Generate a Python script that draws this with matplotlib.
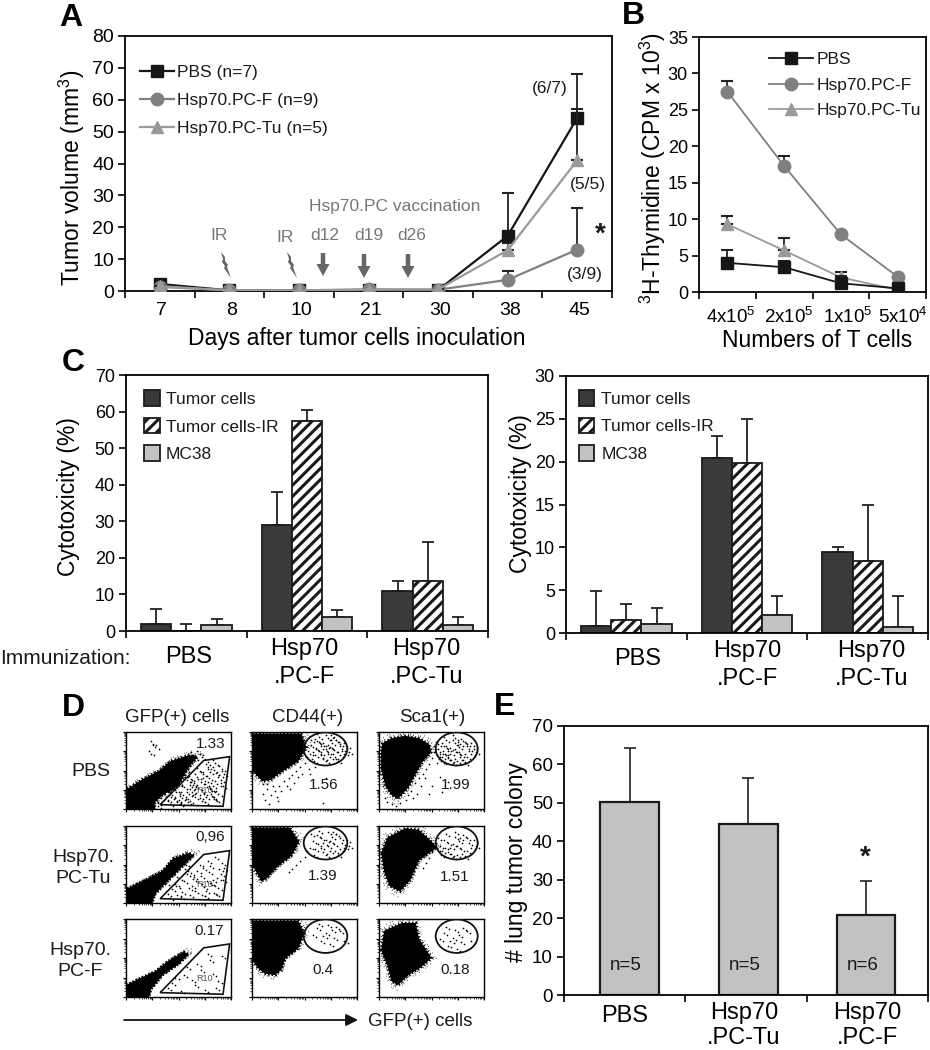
import matplotlib
matplotlib.use("Agg")
import numpy as np
import matplotlib.pyplot as plt
from matplotlib.patches import Patch, Ellipse, Polygon, FancyArrow
from matplotlib.lines import Line2D
from matplotlib.transforms import Affine2D

plt.rcParams.update({
    "font.family": ["Liberation Sans", "DejaVu Sans"],
    "mathtext.fontset": "custom",
    "mathtext.rm": "Liberation Sans",
    "mathtext.default": "regular",
    "hatch.linewidth": 2.2,
    "axes.linewidth": 1.3,
    "text.color": "#1a1a1a",
})

# ---------- data ----------
days = ["7", "8", "10", "21", "30", "38", "45"]
a_pbs = [2.2, 0.2, 0.2, 0.3, 0.3, 17.3, 54.3]
a_pbs_top = [2.2, 0.2, 0.2, 0.3, 0.3, 30.7, 68.0]
a_f = [1.3, 0.2, 0.2, 0.5, 0.4, 3.5, 13.0]
a_f_top = [1.3, 0.2, 0.2, 0.5, 0.4, 6.3, 26.0]
a_tu = [1.5, 0.2, 0.2, 0.4, 0.5, 12.8, 41.0]
a_tu_top = [1.5, 0.2, 0.2, 0.4, 0.5, 15.0, 57.0]

t_cells = ["4x10$^5$", "2x10$^5$", "1x10$^5$", "5x10$^4$"]
b_pbs = [4.0, 3.4, 1.2, 0.5]
b_pbs_top = [5.8, 4.3, 2.2, 0.5]
b_f = [27.5, 17.3, 7.9, 2.1]
b_f_top = [29.0, 18.7, 7.9, 2.1]
b_tu = [9.3, 5.7, 2.0, 0.3]
b_tu_top = [10.5, 7.4, 2.7, 0.3]

groups_c = ["PBS", "Hsp70\n.PC-F", "Hsp70\n.PC-Tu"]
c1_tc = [2.0, 29.0, 11.0]
c1_tc_top = [6.0, 38.0, 13.8]
c1_ir = [0.0, 57.5, 13.8]
c1_ir_top = [2.0, 60.5, 24.2]
c1_mc = [1.7, 3.8, 1.7]
c1_mc_top = [3.3, 5.7, 3.7]
c2_tc = [0.8, 20.4, 9.5]
c2_tc_top = [4.9, 23.0, 10.0]
c2_ir = [1.5, 19.8, 8.4]
c2_ir_top = [3.4, 25.0, 15.0]
c2_mc = [1.0, 2.1, 0.7]
c2_mc_top = [2.9, 4.3, 4.3]

groups_e = ["PBS", "Hsp70\n.PC-Tu", "Hsp70\n.PC-F"]
e_vals = [50.2, 44.5, 20.7]
e_top = [64.3, 56.5, 29.7]
e_n = ["n=5", "n=5", "n=6"]

flow_rows = ["PBS", "Hsp70.\nPC-Tu", "Hsp70.\nPC-F"]
flow_cols = ["GFP(+) cells", "CD44(+)", "Sca1(+)"]
flow_pct = [["1.33", "1.56", "1.99"], ["0,96", "1.39", "1.51"], ["0.17", "0.4", "0.18"]]
flow_share = [1.0, 0.6, 0.22]

cloud_gfp = [
    [(0, 0), (28, 0), (27, 8), (35, 18), (50, 30), (58, 50), (68, 68), (60, 70), (42, 62), (32, 50), (15, 38), (0, 25)],
    [(0, 0), (25, 0), (28, 12), (38, 26), (52, 45), (65, 62), (60, 65), (45, 58), (35, 42), (15, 28), (0, 18)],
    [(0, 0), (22, 0), (24, 10), (35, 28), (50, 42), (60, 55), (55, 58), (40, 46), (28, 33), (10, 22), (0, 15)],
]
cloud_cd44 = [
    [(0, 98), (47, 98), (52, 80), (44, 62), (28, 48), (18, 38), (10, 36), (0, 50)],
    [(0, 98), (36, 98), (45, 80), (38, 62), (25, 48), (14, 32), (9, 28), (4, 40), (0, 50)],
    [(0, 98), (44, 98), (50, 82), (44, 62), (32, 50), (28, 35), (22, 28), (12, 30), (5, 38), (0, 48)],
]
cloud_sca = [
    [(2, 75), (3, 85), (12, 92), (25, 95), (38, 92), (48, 84), (50, 74), (42, 62), (36, 48), (28, 28), (18, 13), (12, 18), (6, 30), (2, 52)],
    [(2, 65), (8, 85), (25, 97), (38, 95), (50, 80), (55, 72), (38, 55), (30, 30), (20, 15), (10, 22), (5, 40)],
    [(2, 60), (5, 85), (22, 95), (35, 95), (38, 75), (50, 50), (40, 38), (28, 28), (18, 15), (12, 20), (8, 40)],
]
gate_gfp = [(74, 63), (98.7, 68), (92.4, 3.5), (32.5, 5.6)]
dots_gfp = [(40, 12), (52, 8), (63, 22), (71, 35), (80, 48), (88, 20), (47, 25), (58, 38), (66, 15), (75, 9),
            (83, 30), (91, 52), (44, 18), (55, 28), (68, 42), (78, 55), (86, 12), (50, 33), (61, 10), (73, 45),
            (82, 24), (90, 38), (42, 7), (57, 50), (64, 31), (76, 16), (85, 60), (48, 22), (53, 14), (69, 27),
            (79, 40), (87, 33), (46, 36), (60, 19), (72, 11), (81, 26), (89, 44), (38, 26), (56, 44), (65, 34),
            (74, 21), (84, 13), (93, 46), (49, 11), (62, 39), (70, 50), (77, 29), (92, 30), (43, 15), (59, 9),
            (67, 21), (80, 57), (86, 47), (51, 6), (54, 18), (63, 28), (75, 37), (83, 16), (36, 20), (33, 14),
            (30, 8), (27, 12), (40, 40), (45, 32), (58, 60), (64, 70), (70, 72), (66, 66), (48, 55), (53, 62),
            (26, 85), (28, 80), (24, 72), (8, 15), (35, 30), (38, 34), (41, 28), (72, 68), (20, 5), (30, 4)]
dots_cd44 = [(62, 88), (70, 82), (78, 76), (66, 72), (84, 84), (58, 80), (74, 68), (80, 90), (64, 94), (72, 92),
             (88, 72), (68, 78), (76, 86), (60, 70), (82, 62), (86, 78), (56, 90), (70, 62), (90, 82), (66, 84),
             (55, 72), (74, 80), (79, 68), (63, 76), (84, 70), (68, 66), (72, 74), (77, 92), (59, 62), (92, 74),
             (52, 68), (50, 60), (46, 54), (42, 50), (38, 44), (35, 40), (30, 36), (26, 30), (22, 24), (18, 18),
             (14, 26), (12, 12), (16, 6), (48, 46), (54, 52), (40, 34), (33, 30), (28, 24), (20, 30), (10, 20),
             (44, 42), (60, 55), (36, 26), (24, 16), (14, 32), (55, 46), (70, 40), (68, 8), (25, 10), (10, 32)]
dots_sca = [(62, 82), (70, 76), (78, 70), (66, 66), (84, 84), (58, 74), (74, 62), (80, 88), (64, 90), (72, 86),
            (88, 72), (68, 72), (76, 80), (60, 68), (82, 60), (86, 78), (56, 84), (70, 60), (90, 82), (66, 78),
            (55, 70), (74, 74), (79, 64), (63, 72), (84, 68), (68, 64), (72, 92), (77, 84), (59, 62), (92, 74),
            (52, 74), (50, 66), (54, 78), (48, 58), (45, 52), (42, 46), (38, 40), (34, 34), (30, 24), (28, 18),
            (26, 12), (20, 8), (12, 6), (6, 14), (4, 30), (44, 40), (50, 30), (60, 22), (36, 20), (40, 30),
            (48, 20), (58, 42), (66, 35), (16, 4), (8, 9), (32, 14), (1, 45), (55, 60), (52, 82), (64, 58)]

# ---------- helpers ----------
W, H = 930, 1050
fig = plt.figure(figsize=(W / 100, H / 100), dpi=100, facecolor="white")


def axes_px(l, t, r, b):
    return fig.add_axes([l / W, 1 - b / H, (r - l) / W, (b - t) / H])


def band_axis(ax, labels, size, pad=8, ysize=13, linespacing=1.35):
    n = len(labels)
    ax.set_xlim(-0.5, n - 0.5)
    ax.set_xticks(np.arange(n + 1) - 0.5)
    ax.set_xticklabels([])
    ax.set_xticks(np.arange(n), minor=True)
    ax.set_xticklabels(labels, minor=True, fontsize=size, linespacing=linespacing)
    ax.tick_params(axis="x", which="minor", length=0, pad=pad)
    ax.tick_params(axis="x", which="major", length=5, width=1.2, direction="out")
    ax.tick_params(axis="y", length=5, width=1.2, labelsize=ysize, pad=3)


def nudge_labels(ax, offsets):
    """Move each category label by (dx, dy) pixels; dy is upward."""
    labs = ax.get_xticklabels(minor=True)
    for lab, (dx, dy) in zip(labs, offsets):
        lab.set_transform(lab.get_transform() + Affine2D().translate(dx, dy))


def place_ylabel(ax, px_x, px_y):
    inv = ax.transAxes.inverted()
    ax.yaxis.set_label_coords(*inv.transform((px_x, H - px_y)))
    ax.yaxis.label.set_verticalalignment("center")


def place_xlabel(ax, px_x, px_y):
    inv = ax.transAxes.inverted()
    ax.xaxis.set_label_coords(*inv.transform((px_x, H - px_y)))
    ax.xaxis.label.set_verticalalignment("center")


def line_series(ax, vals, tops, color, marker, ms, z, lw=1.6):
    xs = np.arange(len(vals))
    v, t = np.array(vals), np.array(tops)
    ax.errorbar(xs, v, yerr=[np.zeros_like(v), t - v], fmt="none", ecolor="#222222",
                elinewidth=1.3, capsize=4, capthick=1.5, zorder=z - 0.5)
    ax.plot(xs, v, color=color, marker=marker, ms=ms, lw=lw, mec=color, zorder=z)


def line_handle(color, marker, ms, lw=1.6):
    return Line2D([], [], color=color, marker=marker, ms=ms, lw=lw, mec=color)


C_BLACK, C_CIRC, C_TRI = "#161616", "#808080", "#9a9a9a"
MS_S, MS_C, MS_T = 8.5, 9, 9

# ---------- panel A ----------
ax = axes_px(125, 36, 612, 291)
band_axis(ax, days, 14, 8, 14)
nudge_labels(ax, [(2, 0)] * 7)
ax.set_ylim(0, 80)
ax.set_yticks(range(0, 81, 10))
line_series(ax, a_pbs, a_pbs_top, C_BLACK, "s", MS_S, 3)
line_series(ax, a_f, a_f_top, C_CIRC, "o", MS_C, 4)
line_series(ax, a_tu, a_tu_top, C_TRI, "^", MS_T, 5)
ax.set_ylabel("Tumor volume (mm$^3$)", fontsize=16.5)
place_ylabel(ax, 72, 178)
ax.set_xlabel("Days after tumor cells inoculation", fontsize=16.5)
place_xlabel(ax, 357, 339)
ax.legend([line_handle(C_BLACK, "s", MS_S), line_handle(C_CIRC, "o", MS_C), line_handle(C_TRI, "^", MS_T)],
          ["PBS (n=7)", "Hsp70.PC-F (n=9)", "Hsp70.PC-Tu (n=5)"], frameon=False, fontsize=12.5,
          loc="upper left", bbox_to_anchor=(0.03, 0.885), handlelength=2.0, handletextpad=0.15, labelspacing=0.72,
          borderaxespad=0, borderpad=0)

# ---------- panel B ----------
ax = axes_px(699, 37, 926, 292)
band_axis(ax, t_cells, 13.5, 11)
nudge_labels(ax, [(3, 0), (5, 0), (7, 0), (5, 0)])
ax.set_ylim(0, 35)
ax.set_yticks(range(0, 36, 5))
line_series(ax, b_f, b_f_top, C_CIRC, "o", MS_C, 3, 1.3)
line_series(ax, b_tu, b_tu_top, C_TRI, "^", MS_T, 4, 1.3)
line_series(ax, b_pbs, b_pbs_top, C_BLACK, "s", MS_S, 5, 1.3)
ax.set_ylabel("$^3$H-Thymidine (CPM x 10$^3$)", fontsize=16.5)
place_ylabel(ax, 653, 168)
ax.set_xlabel("Numbers of T cells", fontsize=16.5)
place_xlabel(ax, 817, 340)
ax.legend([line_handle(C_BLACK, "s", MS_S, 1.3), line_handle(C_CIRC, "o", MS_C, 1.3), line_handle(C_TRI, "^", MS_T, 1.3)],
          ["PBS", "Hsp70.PC-F", "Hsp70.PC-Tu"], frameon=False, fontsize=12.5, loc="upper left",
          bbox_to_anchor=(0.31, 0.94), handlelength=2.5, handletextpad=0.25, labelspacing=0.58,
          borderaxespad=0, borderpad=0)


# ---------- panel C ----------
def bar_handles():
    return [Patch(facecolor="#3a3a3a", edgecolor="#1a1a1a", lw=1.3),
            Patch(facecolor="white", edgecolor="#1a1a1a", hatch="///", lw=1.3),
            Patch(facecolor="#c2c2c2", edgecolor="#1a1a1a", lw=1.3)]


def grouped(ax, series, tops, ymax, step, anchor, offsets, ylab_px, pad):
    n = len(groups_c)
    band_axis(ax, groups_c, 17, 5)
    nudge_labels(ax, offsets)
    ax.set_ylim(0, ymax)
    ax.set_yticks(range(0, ymax + 1, step))
    styles = [dict(color="#3a3a3a"), dict(color="white", hatch="///"), dict(color="#c2c2c2")]
    width = 0.25
    for i, (vals, top, st) in enumerate(zip(series, tops, styles)):
        xs = np.arange(n) + (i - 1) * width
        v, t = np.array(vals), np.array(top)
        ax.errorbar(xs, v, yerr=[np.zeros_like(v), t - v], fmt="none", ecolor="#222222",
                    elinewidth=1.3, capsize=4, capthick=1.3, zorder=1)
        ax.bar(xs, v, width=width, edgecolor="#1a1a1a", lw=1.3, zorder=2, **st)
    ax.set_ylabel("Cytotoxicity (%)", fontsize=16.5)
    place_ylabel(ax, *ylab_px)
    ax.legend(bar_handles(), ["Tumor cells", "Tumor cells-IR", "MC38"], frameon=False, fontsize=12.5,
              loc="upper left", bbox_to_anchor=anchor, handlelength=0.9, handleheight=1.0,
              handletextpad=pad, labelspacing=0.62, borderaxespad=0, borderpad=0)


grouped(axes_px(126, 375, 488, 631), [c1_tc, c1_ir, c1_mc], [c1_tc_top, c1_ir_top, c1_mc_top], 70, 10,
        (0.05, 0.94), [(2, -8), (-3, 0), (-1, 0)], (68, 497), 0.35)
grouped(axes_px(566, 376, 928, 633), [c2_tc, c2_ir, c2_mc], [c2_tc_top, c2_ir_top, c2_mc_top], 30, 5,
        (0.035, 0.945), [(11, -8), (0, 0), (4, 0)], (520, 494), 0.4)

# ---------- panel E ----------
ax = axes_px(564, 726, 928, 995)
band_axis(ax, groups_e, 17, 5, 13.5, linespacing=1.18)
nudge_labels(ax, [(0, -3), (-2, 0), (0, 0)])
ax.set_ylim(0, 70)
ax.set_yticks(range(0, 71, 10))
xe = np.arange(3) + np.array([0.04, 0.02, -0.01])
ve, te = np.array(e_vals), np.array(e_top)
ax.errorbar(xe, ve, yerr=[np.zeros(3), te - ve], fmt="none", ecolor="#222222", elinewidth=1.2,
            capsize=4, capthick=1.2, zorder=1)
ax.bar(xe, ve, width=0.48, color="#c2c2c2", edgecolor="#1a1a1a", lw=1.6, zorder=2)
for x, lab in zip(xe, e_n):
    ax.text(x - 0.03, 7.7, lab, ha="center", va="center", fontsize=13.5, zorder=3)
ax.set_ylabel("# lung tumor colony", fontsize=16.5)
place_ylabel(ax, 517, 862)

# ---------- panel D ----------
col_x = [(126, 231), (252, 357), (379, 484)]
row_y = [(732, 809), (826, 903), (919, 997)]
clouds = [cloud_gfp, cloud_cd44, cloud_sca]
dots = [dots_gfp, dots_cd44, dots_sca]
log_major = [0, 25, 50, 75, 100]
log_minor = [d * 25 + 25 * np.log10(k) for d in range(4) for k in range(2, 10)]
pct_pos_rows = [[(81, 85), (68, 31), (73, 31)], [(80, 86), (67, 35), (72, 34)], [(79, 85), (68, 35), (73, 35)]]
speck_a = (0, (0.5, 1.7, 0.5, 3.1, 0.5, 0.9))
speck_b = (0, (0.4, 3.3, 0.4, 1.3, 0.4, 5.7))
for r, (t_, b_) in enumerate(row_y):
    for c, (l_, r_) in enumerate(col_x):
        ax = axes_px(l_, t_, r_, b_)
        ax.set_xlim(0, 100)
        ax.set_ylim(0, 100)
        ax.set_xticks(log_major)
        ax.set_yticks(log_major)
        ax.set_xticks(log_minor, minor=True)
        ax.set_yticks(log_minor, minor=True)
        ax.set_xticklabels([])
        ax.set_yticklabels([])
        ax.tick_params(which="major", length=2.5, width=0.8, direction="out")
        ax.tick_params(which="minor", length=1.5, width=0.5, direction="out")
        for s in ax.spines.values():
            s.set_linewidth(1.0)
        poly = np.array(clouds[c][r], dtype=float)
        mid = poly.mean(axis=0)
        ax.add_patch(Polygon(poly, closed=True, facecolor="black", edgecolor="black",
                             lw=1.8, ls=(0, (0.6, 0.8)), zorder=2))
        # speckled halo around the dense population
        ax.add_patch(Polygon(mid + (poly - mid) * 1.08, closed=True, fill=False, edgecolor="black",
                             lw=1.0, ls=speck_a, zorder=2))
        ax.add_patch(Polygon(mid + (poly - mid) * 1.17, closed=True, fill=False, edgecolor="black",
                             lw=0.9, ls=speck_b, zorder=2))
        pts = np.array(dots[c][:int(len(dots[c]) * flow_share[r])], dtype=float)
        ax.scatter(pts[:, 0], pts[:, 1], s=1.5, c="black", lw=0, zorder=2)
        dense = pts if c == 0 else pts[:30]
        ax.scatter(dense[:, 0] + 3.0, dense[:, 1] - 2.5, s=1.5, c="black", lw=0, zorder=2)
        if r == 0:
            ax.scatter(dense[:, 0] - 2.0, dense[:, 1] + 3.5, s=1.5, c="black", lw=0, zorder=2)
        if c == 0:
            ax.add_patch(Polygon(gate_gfp, closed=True, fill=False, edgecolor="#111111", lw=1.2, zorder=3))
            ax.text(75, 24, "R10", fontsize=6.5, color="#555555", ha="center", va="center", zorder=4)
        else:
            cx = 70 if c == 1 else 74
            wd = 41.5 if c == 1 else 40
            ax.add_patch(Ellipse((cx, 78), wd, 43, fill=False, edgecolor="#111111", lw=1.3, zorder=3))
        ax.text(*pct_pos_rows[r][c], flow_pct[r][c], fontsize=11, ha="center", va="center", zorder=4)

# ---------- overlay in pixel coordinates ----------
ov = fig.add_axes([0, 0, 1, 1], facecolor="none", zorder=20)
ov.set_xlim(0, W)
ov.set_ylim(H, 0)
ov.axis("off")


def t(x, y, s, size=12, **kw):
    kw.setdefault("ha", "center")
    kw.setdefault("va", "center")
    ov.text(x, y, s, fontsize=size, **kw)


for x, y, s in [(71, 18, "A"), (633, 16, "B"), (73, 363, "C"), (73, 708, "D"), (505, 707, "E")]:
    t(x, y, s, 23, fontweight="bold", color="black")

GRAY = "#777777"
t(395, 207, "Hsp70.PC vaccination", 12.5, color=GRAY)
for x, y, s in [(219, 236, "IR"), (285, 238, "IR"), (325, 236, "d12"), (369, 236, "d19"), (412, 236, "d26")]:
    t(x, y, s, 12.5, color=GRAY)
for x, y0, y1 in [(323, 253, 276), (364, 254, 278), (408, 254, 278)]:
    ov.add_patch(FancyArrow(x, y0, 0, y1 - y0, width=4.5, head_width=13, head_length=12,
                            length_includes_head=True, color="#666666", lw=0))
for x0 in (221, 287):
    bolt = [(0, 0), (4, 5), (4, 9), (7, 13), (6, 15), (10, 26), (3, 16), (4, 14), (1, 10), (2, 7)]
    ov.add_patch(Polygon([(x0 + a, 252 + b) for a, b in bolt], closed=True, color="#666666", lw=0))

t(550, 89, "(6/7)", 12.5)
t(588, 184, "(5/5)", 12.5)
t(585, 275, "(3/9)", 12.5)
t(600, 235, "*", 20, fontweight="bold")
t(865, 858, "*", 20, fontweight="bold")

t(65, 658, "Immunization:", 15)

t(177, 717, flow_cols[0], 13.5)
t(308, 717, flow_cols[1], 13.5)
t(432, 717, flow_cols[2], 13.5)
t(91, 772, flow_rows[0], 14)
t(83, 868, flow_rows[1], 14, linespacing=1.25)
t(80, 961, flow_rows[2], 14, linespacing=1.25)
ov.annotate("", xy=(358, 1020), xytext=(124, 1020),
            arrowprops=dict(arrowstyle="-|>", lw=1.3, color="#111111", mutation_scale=18, shrinkA=0, shrinkB=0))
t(420, 1022, "GFP(+) cells", 13.5)

fig.savefig("out.png", dpi=100)
